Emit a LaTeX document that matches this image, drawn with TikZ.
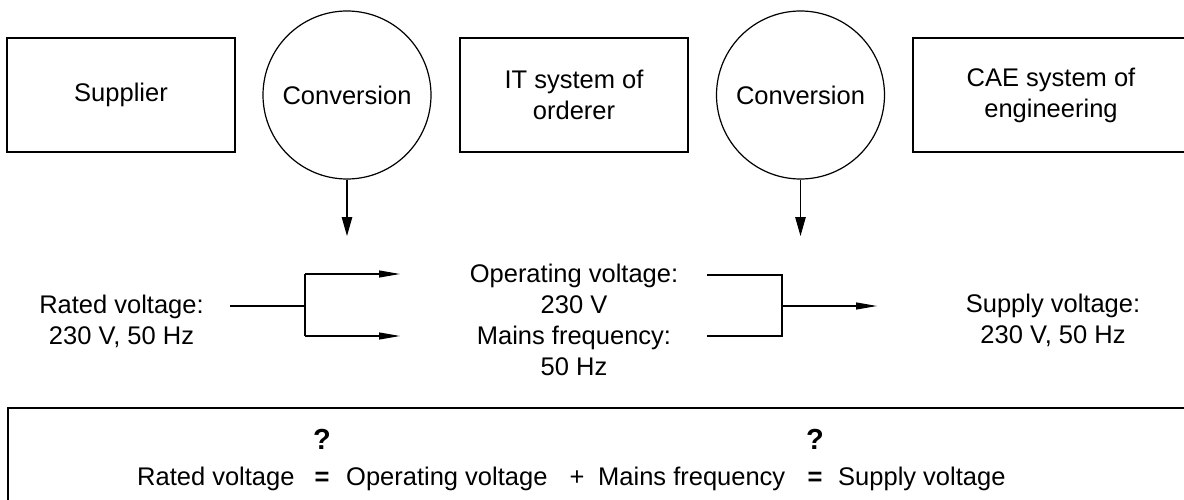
\documentclass[tikz,border=0pt]{standalone}
\usepackage{fontspec}
\setmainfont{Liberation Sans}
\usetikzlibrary{arrows.meta}
\begin{document}
\begin{tikzpicture}[x=1pt,y=-1pt,
  font=\fontsize{25.5}{31}\selectfont,
  box/.style={draw, line width=1.4pt, minimum width=228pt, minimum height=114pt, inner sep=0pt, align=center},
  conv/.style={draw, circle, line width=1.2pt, minimum size=168pt, inner sep=0pt},
  link/.style={line width=1.1pt},
  vtip/.style={link, -{Triangle[length=19pt,width=10.5pt]}},
  htip/.style={link, -{Triangle[length=21pt,width=7pt]}},
  lbl/.style={align=center, inner sep=0pt},
  frm/.style={draw, line width=2.2pt, anchor=north west, minimum width=1250pt, minimum height=150pt, inner sep=0pt},
  part/.style={inner sep=0pt, anchor=base west},
  sym/.style={inner sep=0pt, anchor=base},
  bsym/.style={sym, font=\fontsize{25.5}{31}\selectfont\bfseries},
  qsym/.style={sym, font=\fontsize{29}{33}\selectfont\bfseries}
]
\fill[white] (0,0) rectangle (1184,500);
\path[use as bounding box, clip] (0,0) rectangle (1184,500);

% top row
\node[box] (sup) at (121,95) {Supplier};
\node[conv] (c1) at (347,95) {Conversion};
\node[box] (it) at (574,95) {IT system of\\orderer};
\node[conv] (c2) at (800.5,95) {Conversion};
\node[box, minimum width=276pt] (cae) at (1051,95) {CAE system of\\engineering};

\coordinate (d1) at (347,236);
\coordinate (d2) at (800.5,236);
\draw[vtip] (c1) -- (d1);
\draw[vtip] (c2) -- (d2);

% middle row
\node[lbl] (rated) at (121.5,321.5) {Rated voltage:\\230 V, 50 Hz};
\node[lbl] (mid) at (574,320) {Operating voltage:\\230 V\\Mains frequency:\\50 Hz};
\node[lbl] (supply) at (1053,320) {Supply voltage:\\230 V, 50 Hz};

\coordinate (ra) at (230,306);
\coordinate (rj) at (305,306);
\coordinate (rt) at (305,274);
\coordinate (rb) at (305,336);
\coordinate (at1) at (400,274);
\coordinate (at2) at (400,336);
\draw[link] (ra) -- (rj);
\draw[link] (rt) -- (rb);
\draw[htip] (rt) -- (at1);
\draw[htip] (rb) -- (at2);

\coordinate (sa) at (707,275);
\coordinate (sb) at (707,336);
\coordinate (sj1) at (782,275);
\coordinate (sj2) at (782,336);
\coordinate (sm) at (782,306);
\coordinate (st) at (877,306);
\draw[link] (sa) -- (sj1) -- (sj2) -- (sb);
\draw[htip] (sm) -- (st);

% bottom frame
\node[frm] (frame) at (7,407) {};
\node[part] (f1) at (137,485) {Rated voltage};
\node[bsym] (e1) at (322,485) {=};
\node[part] (f2) at (346,485) {Operating voltage};
\node[sym] (pl) at (577,485) {+};
\node[part] (f3) at (598,485) {Mains frequency};
\node[bsym] (e2) at (815,485) {=};
\node[part] (f4) at (838,485) {Supply voltage};
\node[qsym] (q1) at (e1.base |- 0,449) {?};
\node[qsym] (q2) at (e2.base |- 0,449) {?};
\end{tikzpicture}
\end{document}
